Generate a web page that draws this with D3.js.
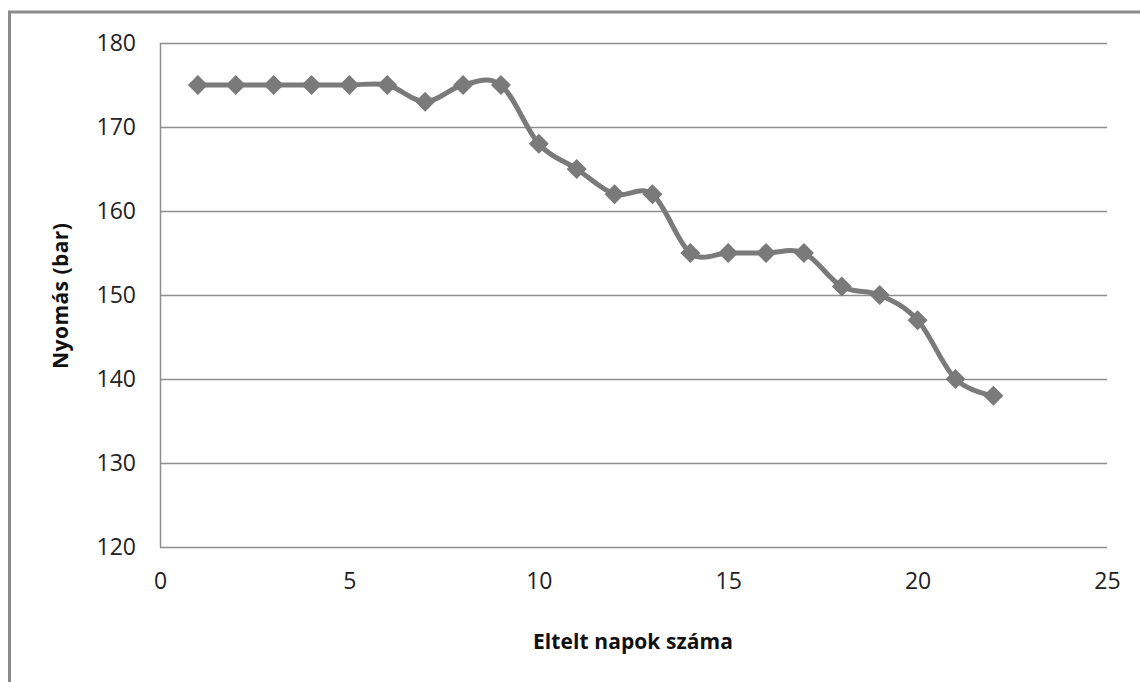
<!DOCTYPE html>
<html>
<head>
<meta charset="utf-8">
<script src="https://cdn.jsdelivr.net/npm/d3@7"></script>
<style>
  body { margin: 0; background: #fff; }
  svg { display: block; }
</style>
</head>
<body>
<div id="chart-area"></div>
<script>
// napok (x) and nyomás (y)
var days = [1, 2, 3, 4, 5, 6, 7, 8, 9, 10, 11, 12, 13, 14, 15, 16, 17, 18, 19, 20, 21, 22];
var pressure = [175, 175, 175, 175, 175, 175, 173, 175, 175, 168, 165, 162, 162, 155, 155, 155, 155, 151, 150, 147, 140, 138];
var xTicks = [0, 5, 10, 15, 20, 25];
var yTicks = [120, 130, 140, 150, 160, 170, 180];

var width = 1140;
var height = 682;
var plot = {left: 160, top: 43, right: 1107, bottom: 547};
var grey = "#7a7a7a";
var font = "'Open Sans', sans-serif";

var svg = d3.select("#chart-area")
    .append("svg")
    .attr("width", width)
    .attr("height", height);

// outer frame (runs off the right and bottom)
svg.append("rect")
    .attr("x", 9.5)
    .attr("y", 12)
    .attr("width", 1200)
    .attr("height", 800)
    .attr("fill", "none")
    .attr("stroke", "#8a8a8a")
    .attr("stroke-width", 3);

var x = d3.scaleLinear().domain([0, 25]).range([plot.left, plot.right]);
var y = d3.scaleLinear().domain([120, 180]).range([plot.bottom, plot.top]);

// gridlines
svg.append("g")
    .selectAll("line")
    .data(yTicks)
    .enter().append("line")
    .attr("x1", plot.left)
    .attr("x2", plot.right)
    .attr("y1", (d) => Math.round(y(d)) + 0.5)
    .attr("y2", (d) => Math.round(y(d)) + 0.5)
    .attr("stroke", "#8e8e8e")
    .attr("stroke-width", 1.5);

// left border of the plot
svg.append("line")
    .attr("x1", plot.left + 0.5).attr("x2", plot.left + 0.5)
    .attr("y1", plot.top).attr("y2", plot.bottom)
    .attr("stroke", "#8e8e8e")
    .attr("stroke-width", 1.5);

// y tick labels
var yAxisCall = d3.axisLeft(y).tickValues(yTicks).tickSize(0).tickPadding(24);
var yAxisGroup = svg.append("g")
    .attr("transform", "translate(" + plot.left + ",0)")
    .call(yAxisCall);
yAxisGroup.select(".domain").remove();
yAxisGroup.selectAll("text")
    .attr("font-family", font)
    .attr("font-size", "23px")
    .attr("fill", "#222");

// x tick labels
var xAxisCall = d3.axisBottom(x).tickValues(xTicks).tickSize(0).tickPadding(26);
var xAxisGroup = svg.append("g")
    .attr("transform", "translate(0," + plot.bottom + ")")
    .call(xAxisCall);
xAxisGroup.select(".domain").remove();
xAxisGroup.selectAll("text")
    .attr("font-family", font)
    .attr("font-size", "23px")
    .attr("fill", "#222");

// axis titles
svg.append("text")
    .attr("x", 633)
    .attr("y", 649)
    .attr("text-anchor", "middle")
    .attr("font-family", font)
    .attr("font-weight", "bold")
    .attr("font-size", "21px")
    .attr("textLength", 200)
    .attr("lengthAdjust", "spacing")
    .attr("fill", "#111")
    .text("Eltelt napok száma");

svg.append("text")
    .attr("transform", "translate(68,296) rotate(-90)")
    .attr("text-anchor", "middle")
    .attr("font-family", font)
    .attr("font-weight", "bold")
    .attr("font-size", "21px")
    .attr("textLength", 146)
    .attr("lengthAdjust", "spacing")
    .attr("fill", "#111")
    .text("Nyomás (bar)");

// series
var pts = days.map((d, i) => [d, pressure[i]]);
var line = d3.line()
    .x((d) => x(d[0]))
    .y((d) => y(d[1]))
    .curve(d3.curveCardinal.tension(0));

svg.append("path")
    .datum(pts)
    .attr("d", line)
    .attr("fill", "none")
    .attr("stroke", grey)
    .attr("stroke-width", 5)
    .attr("stroke-linejoin", "round");

var diamond = d3.symbol().type(d3.symbolSquare).size(200);
svg.append("g")
    .selectAll("path")
    .data(pts)
    .enter().append("path")
    .attr("d", diamond)
    .attr("transform", (d) => "translate(" + x(d[0]) + "," + y(d[1]) + ") rotate(45)")
    .attr("fill", grey);
</script>
</body>
</html>
